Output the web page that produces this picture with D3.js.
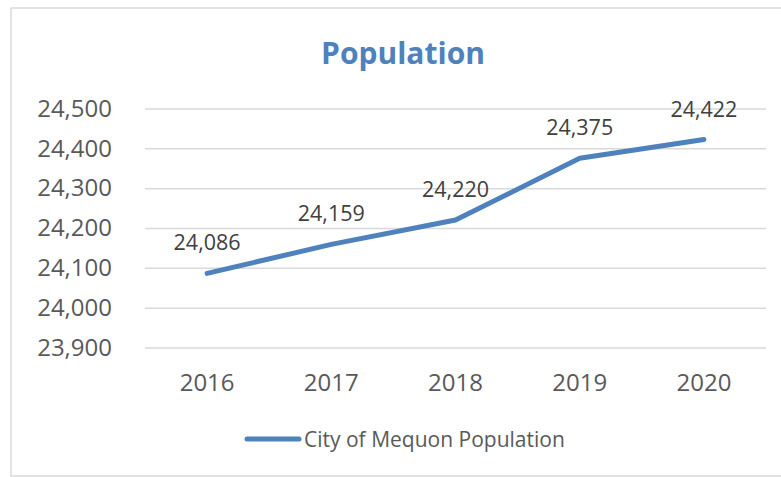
<!DOCTYPE html>
<html>
<head>
<meta charset="utf-8">
<script src="https://cdn.jsdelivr.net/npm/d3@7"></script>
<style>
  html, body { margin: 0; padding: 0; background: #fff; }
  svg { display: block; font-family: "Open Sans", sans-serif; }
</style>
</head>
<body>
<svg id="chart"></svg>
<script>
const years = ['2016', '2017', '2018', '2019', '2020'];
const population = [24086, 24159, 24220, 24375, 24422];
const yTicks = [23900, 24000, 24100, 24200, 24300, 24400, 24500];
const seriesName = 'City of Mequon Population';
const chartTitle = 'Population';

const width = 781;
const height = 477;
const blue = '#4f81bd';
const textGrey = '#595959';

const svg = d3.select('#chart')
  .attr('width', width)
  .attr('height', height);

// chart area border
svg.append('rect')
  .attr('x', 11)
  .attr('y', 8)
  .attr('width', 800)
  .attr('height', 468)
  .attr('fill', '#fff')
  .attr('stroke', '#d9d9d9')
  .attr('stroke-width', 1.5);

const x = d3.scaleBand()
  .domain(years)
  .range([145, 766]);

const y = d3.scaleLinear()
  .domain([23900, 24500])
  .range([347.5, 108.5]);

svg.append('text')
  .attr('x', 403)
  .attr('y', 64)
  .attr('text-anchor', 'middle')
  .attr('font-size', 30)
  .attr('font-weight', 'bold')
  .attr('fill', blue)
  .text(chartTitle);

// gridlines + y labels
const yAxis = d3.axisLeft(y)
  .tickValues(yTicks)
  .tickSize(-(766 - 145))
  .tickPadding(33)
  .tickFormat(d3.format(','));

const yg = svg.append('g')
  .attr('transform', 'translate(145,0)')
  .call(yAxis);
yg.select('.domain').remove();
yg.selectAll('.tick line').attr('stroke', '#d9d9d9').attr('stroke-width', 1.5);
yg.selectAll('.tick text')
  .attr('fill', textGrey)
  .attr('font-size', 24)
  .attr('font-family', '"Open Sans", sans-serif');

const xAxis = d3.axisBottom(x).tickSize(0).tickPadding(12);
const xg = svg.append('g')
  .attr('transform', 'translate(0,362)')
  .call(xAxis);
xg.select('.domain').remove();
xg.selectAll('.tick text')
  .attr('fill', textGrey)
  .attr('font-size', 24)
  .attr('font-family', '"Open Sans", sans-serif');

const line = d3.line()
  .x((d, i) => x(years[i]) + x.bandwidth() / 2)
  .y(d => y(d));

svg.append('path')
  .datum(population)
  .attr('d', line)
  .attr('fill', 'none')
  .attr('stroke', blue)
  .attr('stroke-width', 5)
  .attr('stroke-linecap', 'round')
  .attr('stroke-linejoin', 'round');

svg.append('g')
  .selectAll('text')
  .data(population)
  .join('text')
  .attr('x', (d, i) => x(years[i]) + x.bandwidth() / 2)
  .attr('y', d => y(d) - 23)
  .attr('text-anchor', 'middle')
  .attr('font-size', 21.5)
  .attr('fill', '#404040')
  .text(d => d3.format(',')(d));

// legend
const legend = svg.append('g').attr('transform', 'translate(0,439)');
legend.append('line')
  .attr('x1', 247)
  .attr('x2', 299)
  .attr('y1', 0)
  .attr('y2', 0)
  .attr('stroke', blue)
  .attr('stroke-width', 5)
  .attr('stroke-linecap', 'round');
legend.append('text')
  .attr('x', 304)
  .attr('y', 7.5)
  .attr('font-size', 21)
  .attr('fill', textGrey)
  .text(seriesName);
</script>
</body>
</html>
